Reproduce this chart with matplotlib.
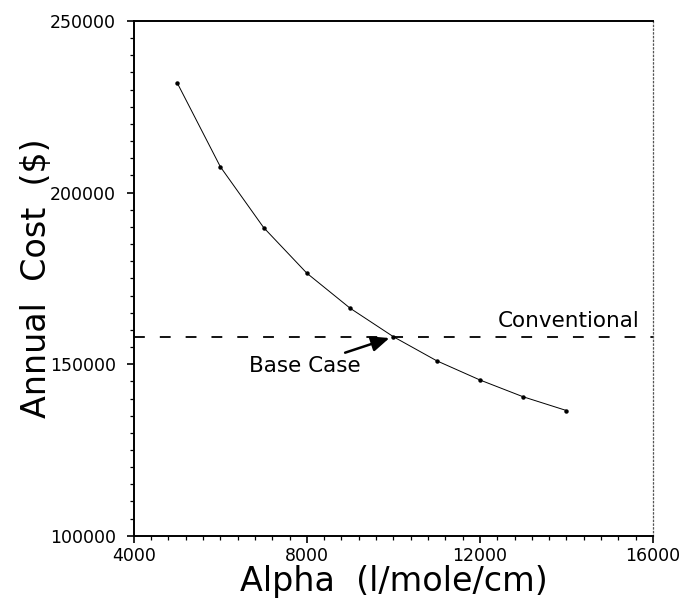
import matplotlib
matplotlib.use("Agg")
import matplotlib.pyplot as plt
from matplotlib.ticker import MultipleLocator

# values
alpha = [5000, 6000, 7000, 8000, 9000, 10000, 11000, 12000, 13000, 14000]
cost = [232000, 207500, 189800, 176500, 166300, 158000, 151000, 145400, 140500, 136500]
conventional = 157800
base_case = (10000, 158000)

fig = plt.figure(figsize=(6.83, 5.98), dpi=100)
ax = fig.add_axes([0.196, 0.104, 0.76, 0.861])

ax.plot(alpha, cost, color="black", lw=0.7, marker="o", markersize=2.2)
ax.axhline(conventional, color="black", lw=1.3, linestyle=(0, (6, 8.3)))

ax.text(15700, 159800, "Conventional", fontsize=15.5, ha="right", va="bottom")
ax.annotate("Base Case", xy=base_case, xytext=(9250, 149500),
            fontsize=15.5, ha="right", va="center",
            arrowprops=dict(arrowstyle="-|>,head_length=0.7,head_width=0.3",
                            color="black", lw=1.8, shrinkA=1, shrinkB=3))

ax.set_xlim(4000, 16000)
ax.set_ylim(100000, 250000)
ax.set_xticks([4000, 8000, 12000, 16000])
ax.set_yticks([100000, 150000, 200000, 250000])
ax.xaxis.set_minor_locator(MultipleLocator(400))
ax.yaxis.set_minor_locator(MultipleLocator(5000))
ax.tick_params(which="major", direction="out", length=5, width=1.2, labelsize=12.5)
ax.tick_params(which="minor", direction="out", length=3, width=0.9)
ax.tick_params(axis="y", pad=8)
ax.tick_params(axis="x", pad=3)

for side in ["left", "bottom", "top"]:
    ax.spines[side].set_linewidth(1.4)
ax.spines["right"].set_linestyle((0, (1, 2)))
ax.spines["right"].set_linewidth(0.9)
ax.spines["right"].set_color("#555555")

ax.set_xlabel("Alpha  (l/mole/cm)", fontsize=24, labelpad=0)
ax.set_ylabel("Annual  Cost  ($)", fontsize=24, labelpad=-2)

fig.savefig("out.png", dpi=100)
